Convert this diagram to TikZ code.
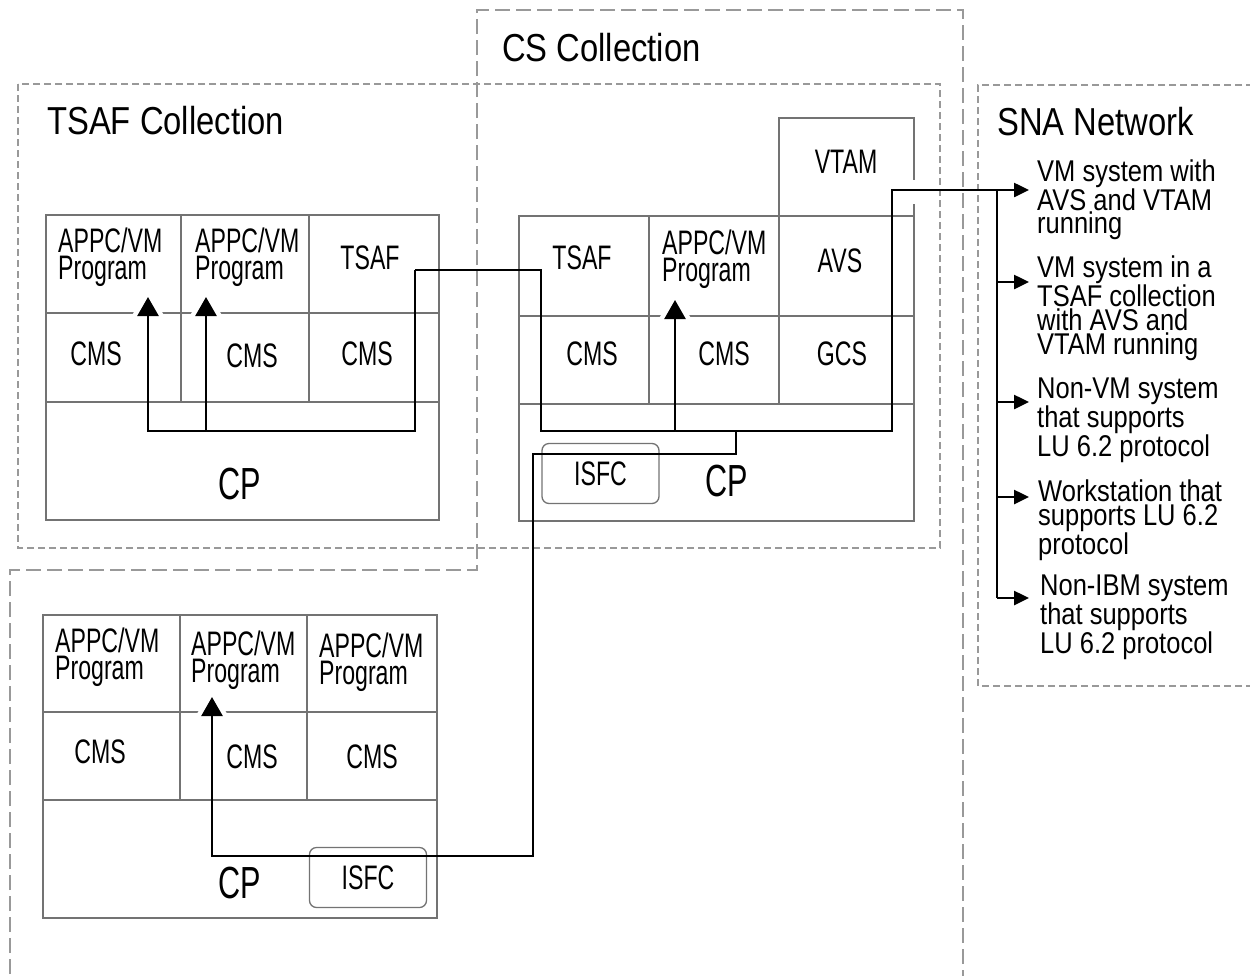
\documentclass[tikz,border=0pt]{standalone}
\usepackage{fontspec}
\setmainfont{Liberation Sans}
\newfontfamily\titlef[FakeStretch=0.84]{Liberation Sans}
\newfontfamily\labf[FakeStretch=0.68]{Liberation Sans}
\newfontfamily\itemf[FakeStretch=0.85]{Liberation Sans}
\usetikzlibrary{arrows.meta}
\begin{document}
\begin{tikzpicture}[x=1pt,y=-1pt,
  cell/.style={draw=black!55, line width=1.5pt},
  conn/.style={draw=black, line width=2.5pt},
  uptip/.style={-{Triangle[length=19pt,width=21pt]},
    preaction={draw=white, line width=0.5pt, shorten >=-6pt, -{Triangle[length=31pt,width=41pt]}}},
  sarrow/.style={-{Triangle[length=15pt,width=14pt]}},
  shortdash/.style={draw=black!40, line width=1.8pt, dash pattern=on 7pt off 4pt},
  longdash/.style={draw=black!40, line width=1.8pt, dash pattern=on 15pt off 6pt},
  lab/.style={font=\labf\fontsize{34}{27}\selectfont, inner sep=0pt},
  appc/.style={lab, align=left, anchor=north west},
  cplab/.style={font=\labf\fontsize{45}{45}\selectfont, inner sep=0pt},
  isfcbox/.style={draw=black!55, line width=1.3pt, rounded corners=7pt, minimum width=117pt, minimum height=60pt, font=\labf\fontsize{34}{34}\selectfont, inner sep=0pt},
  title/.style={font=\titlef\fontsize{39}{39}\selectfont, inner sep=0pt, anchor=base west},
  snaitem/.style={font=\itemf\fontsize{30}{#1}\selectfont, inner sep=0pt, align=left, anchor=north west}
]
\useasboundingbox (0,0) rectangle (1250,975);

% collections
\draw[longdash] (10,995) -- (10,570) -- (477,570) -- (477,10) -- (963,10) -- (963,995);
\draw[shortdash] (18,84) rectangle (940,548);
\draw[shortdash] (1275,85) -- (978,85) -- (978,686) -- (1275,686);
\node[title] (cstitle) at (502,61) {CS Collection};
\node[title] (tsaftitle) at (47,134) {TSAF Collection};
\node[title] (snatitle) at (997,135) {SNA Network};

% TSAF collection system
\draw[cell] (46,215) rectangle (439,520);
\draw[cell] (46,313) -- (439,313);
\draw[cell] (46,402) -- (439,402);
\draw[cell] (181,215) -- (181,402);
\draw[cell] (309,215) -- (309,402);
\node[appc] (lapp1) at (58,228) {APPC/VM\\Program};
\node[appc] (lapp2) at (195,228) {APPC/VM\\Program};
\node[lab] (ltsaf) at (370,258) {TSAF};
\node[lab] (lcms1) at (96,354) {CMS};
\node[lab] (lcms2) at (252,356) {CMS};
\node[lab] (lcms3) at (367,354) {CMS};
\node[cplab] (lcp) at (240,484) {CP};

% CS collection system
\draw[cell] (519,216) rectangle (914,521);
\draw[cell] (519,316) -- (914,316);
\draw[cell] (519,404) -- (914,404);
\draw[cell] (649,216) -- (649,404);
\draw[cell] (779,404) -- (779,118) -- (914,118) -- (914,180);
\draw[cell] (914,204) -- (914,216);
\node[lab] (rvtam) at (846,162) {VTAM};
\node[lab] (rtsaf) at (582,258) {TSAF};
\node[appc] (rapp) at (662,230) {APPC/VM\\Program};
\node[lab] (ravs) at (840,261) {AVS};
\node[lab] (rcms1) at (592,354) {CMS};
\node[lab] (rcms2) at (724,354) {CMS};
\node[lab] (rgcs) at (842,354) {GCS};
\node[isfcbox] (risfc) at (600.5,473.5) {ISFC};
\node[cplab] (rcp) at (727,481) {CP};

% lower system
\draw[cell] (43,615) rectangle (437,918);
\draw[cell] (43,712) -- (437,712);
\draw[cell] (43,800) -- (437,800);
\draw[cell] (180,615) -- (180,800);
\draw[cell] (307,615) -- (307,800);
\node[appc] (bapp1) at (55,628) {APPC/VM\\Program};
\node[appc] (bapp2) at (191,631) {APPC/VM\\Program};
\node[appc] (bapp3) at (319,633) {APPC/VM\\Program};
\node[lab] (bcms1) at (100,752) {CMS};
\node[lab] (bcms2) at (252,757) {CMS};
\node[lab] (bcms3) at (372,757) {CMS};
\node[cplab] (bcp) at (240,883) {CP};
\node[isfcbox] (bisfc) at (368,877.5) {ISFC};

% SNA items
\node[snaitem=22.5] (i1) at (1037,160) {VM system with\\AVS and VTAM\\running};
\node[snaitem=24] (i2) at (1037,256) {VM system in a\\TSAF collection\\with AVS and\\VTAM running};
\node[snaitem=26] (i3) at (1037,378) {Non-VM system\\that supports\\LU 6.2 protocol};
\node[snaitem=24] (i4) at (1038,480) {Workstation that\\supports LU 6.2\\protocol};
\node[snaitem=27] (i5) at (1040,575) {Non-IBM system\\that supports\\LU 6.2 protocol};

% connector points
\coordinate (tsafout) at (415,270);
\coordinate (j1) at (415,431);
\coordinate (a1b) at (148,431);
\coordinate (a1) at (148,297);
\coordinate (a2b) at (206,431);
\coordinate (a2) at (206,297);
\coordinate (k1) at (541,270);
\coordinate (k2) at (541,431);
\coordinate (k3) at (892,431);
\coordinate (k4) at (892,190);
\coordinate (a3b) at (675,431);
\coordinate (a3) at (675,300);
\coordinate (m1) at (736,431);
\coordinate (m2) at (736,454);
\coordinate (m3) at (533,454);
\coordinate (m4) at (533,856);
\coordinate (m5) at (212,856);
\coordinate (a4) at (212,697);
\coordinate (bus1) at (997,190);
\coordinate (bus2) at (997,282);
\coordinate (bus3) at (997,402);
\coordinate (bus4) at (997,497);
\coordinate (bus5) at (997,598);
\coordinate (s1) at (1029,190);
\coordinate (s2) at (1029,282);
\coordinate (s3) at (1029,402);
\coordinate (s4) at (1029,497);
\coordinate (s5) at (1029,598);

% connectors
\draw[conn,uptip] (tsafout) -- (j1) -- (a1b) -- (a1);
\draw[conn,uptip] (a2b) -- (a2);
\draw[conn] (tsafout) -- (k1) -- (k2) -- (k3) -- (k4) -- (bus1);
\draw[conn,uptip] (a3b) -- (a3);
\draw[conn,uptip] (m1) -- (m2) -- (m3) -- (m4) -- (m5) -- (a4);
\draw[conn] (bus1) -- (bus5);
\draw[conn,sarrow] (bus1) -- (s1);
\draw[conn,sarrow] (bus2) -- (s2);
\draw[conn,sarrow] (bus3) -- (s3);
\draw[conn,sarrow] (bus4) -- (s4);
\draw[conn,sarrow] (bus5) -- (s5);
\end{tikzpicture}
\end{document}
